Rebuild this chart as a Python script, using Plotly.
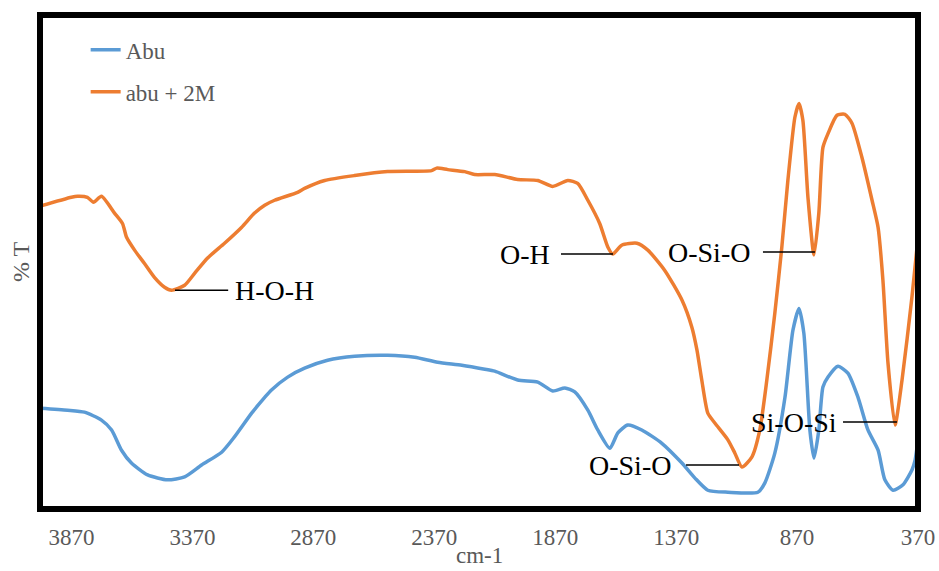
import plotly.graph_objects as go

# Wavenumber (cm-1) and %T readings, series "Abu"
abu_wn = [4000, 3886, 3816, 3746, 3704, 3663, 3622, 3555, 3473, 3402, 3332, 3249, 3196, 3125,
          3071, 3043, 2976, 2906, 2811, 2699, 2563, 2451, 2356, 2256, 2161, 2120, 2025, 1942,
          1880, 1830, 1789, 1735, 1694, 1644, 1611, 1570, 1512, 1429, 1346, 1293, 1239, 1156,
          1032, 1003, 962, 920, 887, 862, 842, 817, 800, 780, 763, 742, 701, 660, 618, 577,
          535, 507, 473, 432, 395, 382, 370]
abu_t = [20.4, 20.0, 19.6, 18.0, 16.0, 11.9, 9.3, 6.9, 5.9, 6.5, 8.9, 11.5, 14.6, 19.4,
         22.6, 24.1, 26.7, 28.5, 30.1, 30.9, 31.1, 30.7, 29.7, 29.1, 28.3, 27.9, 26.1, 25.7,
         23.9, 24.5, 23.7, 20.0, 16.0, 12.3, 15.4, 17.0, 16.0, 13.3, 9.3, 6.3, 3.8, 3.4,
         3.4, 5.3, 11.3, 22.6, 36.2, 40.6, 35.6, 16.0, 10.3, 16.0, 24.7, 26.7, 28.9, 27.5, 22.6, 16.0,
         11.9, 5.9, 3.8, 4.9, 7.9, 9.9, 14.0]

# Series "abu + 2M"
abu2m_wn = [4000, 3870, 3845, 3804, 3779, 3746, 3692, 3659, 3642, 3609, 3568, 3527, 3485, 3456,
            3402, 3361, 3307, 3237, 3167, 3113, 3071, 3030, 2935, 2906, 2823, 2699, 2563, 2381,
            2360, 2314, 2244, 2203, 2120, 2025, 1942, 1880, 1818, 1777, 1735, 1686, 1652, 1632,
            1595, 1532, 1487, 1417, 1346, 1305, 1284, 1264, 1239, 1210, 1156, 1127, 1098, 1057,
            1024, 995, 962, 933, 908, 879, 862, 846, 825, 800, 780, 763, 742, 705, 672, 643,
            602, 560, 535, 515, 494, 465, 436, 395, 374, 370]
abu2m_t = [61.3, 63.1, 63.3, 63.1, 62.1, 63.3, 59.9, 57.8, 55.0, 52.4, 49.7, 46.9, 44.9, 44.3,
           45.3, 47.7, 50.8, 53.8, 57.0, 59.9, 61.5, 62.5, 64.1, 64.9, 66.5, 67.5, 68.3, 68.5,
           69.0, 68.7, 68.3, 67.7, 67.7, 66.7, 66.5, 65.3, 66.5, 65.9, 62.5, 57.8, 53.0, 51.6,
           53.4, 53.8, 52.4, 48.3, 42.3, 36.8, 32.2, 26.1, 19.4, 17.4, 14.0, 11.3, 8.5, 10.5,
           16.0, 26.1, 39.6, 53.0, 66.5, 79.3, 82.1, 78.7, 63.1, 51.4, 59.9, 73.2, 76.0, 79.7, 79.9, 78.1,
           71.2, 62.5, 57.0, 46.3, 29.5, 17.0, 26.1, 42.9, 53.0, 54.5]

tick_vals = [3870, 3370, 2870, 2370, 1870, 1370, 870, 370]
tick_text = [str(v) for v in tick_vals]

# Band labels: (text, leader start wn, leader end wn, %T, text anchor wn, side)
bands = [
    ("H-O-H", 3442, 3222, 44.3, 3202, "left"),
    ("O-H", 1846, 1631, 51.6, 1883, "right"),
    ("O-Si-O", 1011, 796, 52.0, 1056, "right"),
    ("Si-O-Si", 680, 457, 17.6, 697, "right"),
    ("O-Si-O", 1329, 1110, 8.9, 1383, "right"),
]

BLUE = "#5B9BD5"
ORANGE = "#ED7D31"
GREY = "#595959"
SERIF = "Liberation Serif"

fig = go.Figure()
fig.add_trace(go.Scatter(x=abu_wn, y=abu_t, mode="lines", name="Abu",
                         line=dict(color=BLUE, width=3.5, shape="spline", smoothing=0.6),
                         legendgroup="a"))
fig.add_trace(go.Scatter(x=abu2m_wn, y=abu2m_t, mode="lines", name="abu + 2M",
                         line=dict(color=ORANGE, width=3.5, shape="spline", smoothing=0.6),
                         legendgroup="b"))

for text, x0, x1, t, xt, side in bands:
    fig.add_shape(type="line", xref="x", yref="y", x0=x0, x1=x1, y0=t, y1=t,
                  line=dict(color="black", width=1.5))
    fig.add_annotation(x=xt, y=t, xref="x", yref="y", text=text, showarrow=False,
                       xanchor=side, yanchor="middle",
                       font=dict(family=SERIF, size=28, color="black"))

# x-axis title
fig.add_annotation(x=0.5, y=-0.095, xref="paper", yref="paper", text="cm-1", showarrow=False,
                   xanchor="center", yanchor="middle", borderpad=0,
                   font=dict(family=SERIF, size=23, color=GREY))

fig.add_shape(type="rect", xref="paper", yref="paper", x0=0, x1=1, y0=0, y1=1,
              line=dict(color="black", width=6), layer="above")

fig.update_layout(
    width=939, height=571,
    margin=dict(l=40, r=21, t=15, b=62),
    paper_bgcolor="white", plot_bgcolor="white",
    font=dict(family=SERIF, color=GREY),
    showlegend=True,
    legend=dict(x=0.052, y=0.973, xanchor="left", yanchor="top",
                font=dict(family=SERIF, size=23, color=GREY),
                bgcolor="rgba(0,0,0,0)", tracegroupgap=9, traceorder="grouped"),
    xaxis=dict(range=[4000, 370], tickvals=tick_vals, ticktext=tick_text,
               showgrid=False, zeroline=False, showline=False,
               ticks="", ticklabelstandoff=12,
               tickfont=dict(family=SERIF, size=23, color=GREY),
               automargin=False),
    yaxis=dict(range=[0, 100], showticklabels=False, showgrid=False, zeroline=False,
               showline=False, ticks="",
               title=dict(text="% T", font=dict(family=SERIF, size=24, color=GREY), standoff=2),
               automargin=False),
)

fig.write_html("out.html")
